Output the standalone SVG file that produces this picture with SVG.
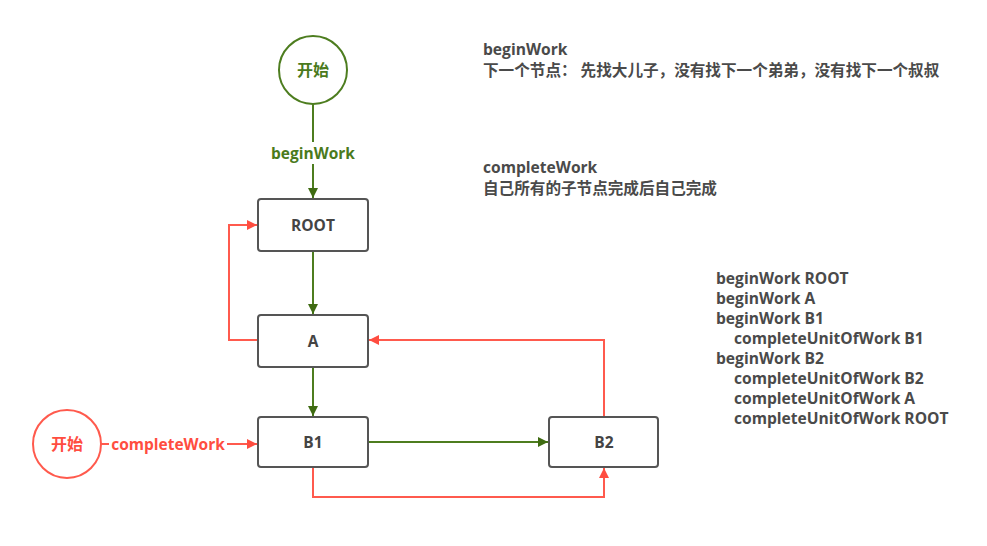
<svg xmlns="http://www.w3.org/2000/svg" width="987" height="546" viewBox="0 0 987 546">
<defs>
<marker id="ag" viewBox="0 0 10 10" refX="10" refY="5" markerWidth="10" markerHeight="10" markerUnits="userSpaceOnUse" orient="auto"><path d="M0,0 L10,5 L0,10 z" fill="#3f6b12"/></marker>
<marker id="ar" viewBox="0 0 10 10" refX="10" refY="5" markerWidth="10" markerHeight="10" markerUnits="userSpaceOnUse" orient="auto"><path d="M0,0 L10,5 L0,10 z" fill="#ff4d40"/></marker>
<style>
text{font-family:"Open Sans","Noto Sans","Noto Sans CJK SC",sans-serif;font-weight:bold}
.box{fill:#fff;stroke:#555;stroke-width:2}
.bt{font-size:15.5px;fill:#444;text-anchor:middle}
.g{stroke:#4d7d1f;stroke-width:2;fill:none}
.r{stroke:#ff5a4d;stroke-width:2;fill:none}
.note{font-size:15.6px;fill:#4a4a4a}
.cn{font-size:15.6px;fill:#4a4a4a}
</style>
</defs>
<rect width="987" height="546" fill="#fff"/>
<g id="connectors">
<path class="g" d="M313,104 V198" marker-end="url(#ag)"/>
<path class="g" d="M313,251 V314" marker-end="url(#ag)"/>
<path class="g" d="M313,367 V416" marker-end="url(#ag)"/>
<path class="g" d="M368,442 H548" marker-end="url(#ag)"/>
<path class="r" d="M101,444 H257" marker-end="url(#ar)"/>
<path class="r" d="M313,467 V497 H604 V468" marker-end="url(#ar)"/>
<path class="r" d="M604,417 V340 H369" marker-end="url(#ar)"/>
<path class="r" d="M258,340 H229 V225 H257" marker-end="url(#ar)"/>
<rect x="267" y="142" width="92" height="22" fill="#fff"/>
<text x="313" y="159" text-anchor="middle" style="font-size:15.5px;fill:#4a7a1c">beginWork</text>
<rect x="109" y="434" width="118" height="20" fill="#fff"/>
<text x="168" y="450" text-anchor="middle" style="font-size:15.5px;fill:#ff4d40">completeWork</text>
</g>
<g id="start-green">
<circle cx="313" cy="70" r="34" fill="#fff" stroke="#4d7d1f" stroke-width="2"/>
<text x="313" y="76" text-anchor="middle" style="font-size:16px;fill:#4a7a1c">开始</text>
</g>
<g id="start-red">
<circle cx="67" cy="444" r="34" fill="#fff" stroke="#ff5a4d" stroke-width="2"/>
<text x="67" y="450" text-anchor="middle" style="font-size:16px;fill:#ff4d40">开始</text>
</g>
<g id="root"><rect class="box" x="258" y="199" width="110" height="52" rx="3"/><text class="bt" x="313" y="231">ROOT</text></g>
<g id="a"><rect class="box" x="258" y="315" width="110" height="52" rx="3"/><text class="bt" x="313" y="347">A</text></g>
<g id="b1"><rect class="box" x="258" y="417" width="110" height="50" rx="3"/><text class="bt" x="313" y="448">B1</text></g>
<g id="b2"><rect class="box" x="549" y="417" width="109" height="50" rx="3"/><text class="bt" x="604" y="448">B2</text></g>
<g id="notes">
<text class="note" x="483" y="55">beginWork</text>
<text class="cn" x="483" y="76">下一个节点： 先找大儿子，没有找下一个弟弟，没有找下一个叔叔</text>
<text class="note" x="483" y="173">completeWork</text>
<text class="cn" x="483" y="194">自己所有的子节点完成后自己完成</text>
</g>
<g id="log">
<text class="note" x="716" y="284">beginWork ROOT</text>
<text class="note" x="716" y="304">beginWork A</text>
<text class="note" x="716" y="324">beginWork B1</text>
<text class="note" x="734" y="344">completeUnitOfWork B1</text>
<text class="note" x="716" y="364">beginWork B2</text>
<text class="note" x="734" y="384">completeUnitOfWork B2</text>
<text class="note" x="734" y="404">completeUnitOfWork A</text>
<text class="note" x="734" y="424">completeUnitOfWork ROOT</text>
</g>
</svg>
